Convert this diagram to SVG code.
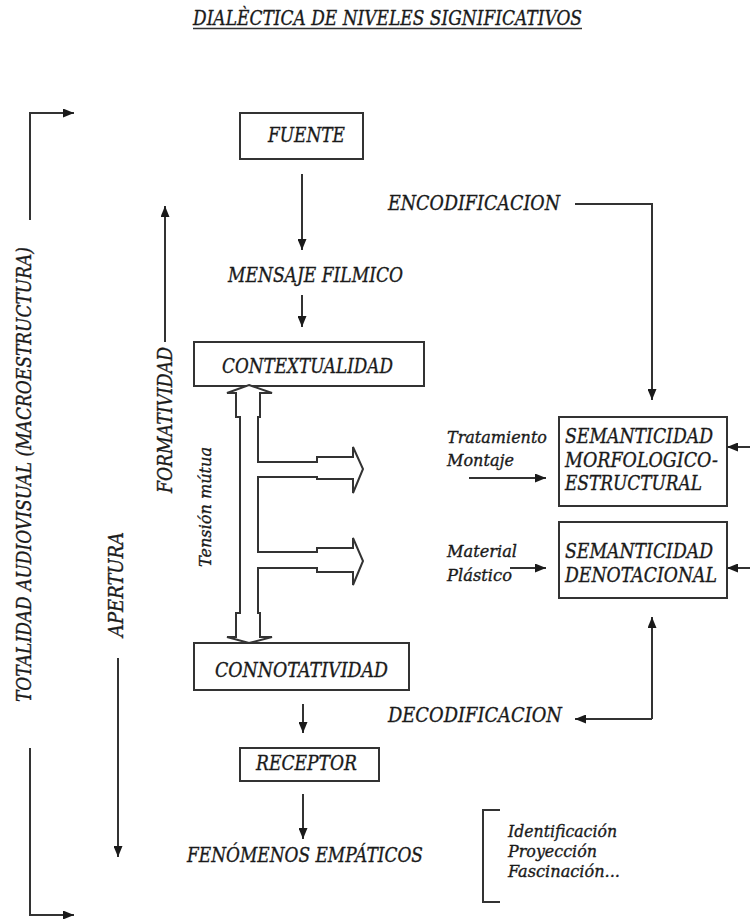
<svg xmlns="http://www.w3.org/2000/svg" width="750" height="919" viewBox="0 0 750 919">
  <defs>
    <marker id="head" viewBox="0 0 11 9" refX="11" refY="4.5" markerWidth="11" markerHeight="9" markerUnits="userSpaceOnUse" orient="auto">
      <path d="M0,0 L11,4.5 L0,9 z" fill="#1a1a1a"/>
    </marker>
    <style>
      text { font-family: "DejaVu Serif", "Liberation Serif", serif; font-style: italic; fill: #1a1a1a; stroke: #1a1a1a; stroke-width: 0.35; }
      .lbl { font-size: 20px; }
      .sm { font-size: 17px; }
      .box { fill: #fff; stroke: #333; stroke-width: 2; }
      .ln { fill: none; stroke: #333; stroke-width: 2; }
      .arr { fill: none; stroke: #333; stroke-width: 2; marker-end: url(#head); }
    </style>
  </defs>
  <rect width="750" height="919" fill="#fff"/>

  <!-- heading -->
  <g id="title">
    <text class="lbl" x="193" y="25" textLength="389" lengthAdjust="spacingAndGlyphs">DIALÈCTICA DE NIVELES SIGNIFICATIVOS</text>
    <line x1="193" y1="28.5" x2="582" y2="28.5" stroke="#333" stroke-width="1.5"/>
  </g>

  <!-- side labels -->
  <g id="totalidad">
    <text class="lbl" transform="translate(31,702) rotate(-90)" textLength="455" lengthAdjust="spacingAndGlyphs">TOTALIDAD AUDIOVISUAL (MACROESTRUCTURA)</text>
  </g>
  <g id="formatividad">
    <text class="lbl" transform="translate(172,493) rotate(-90)" textLength="146" lengthAdjust="spacingAndGlyphs">FORMATIVIDAD</text>
  </g>
  <g id="apertura">
    <text class="lbl" transform="translate(123,637) rotate(-90)" textLength="105" lengthAdjust="spacingAndGlyphs">APERTURA</text>
  </g>
  <g id="tension">
    <text class="sm" transform="translate(211,567) rotate(-90)" textLength="120" lengthAdjust="spacingAndGlyphs">Tensión mútua</text>
  </g>

  <!-- main chain -->
  <g id="fuente">
    <rect class="box" x="240" y="113" width="123" height="46"/>
    <text class="lbl" x="268" y="142" textLength="77" lengthAdjust="spacingAndGlyphs">FUENTE</text>
  </g>
  <g id="mensaje">
    <text class="lbl" x="228" y="282" textLength="175" lengthAdjust="spacingAndGlyphs">MENSAJE FILMICO</text>
  </g>
  <g id="contextualidad">
    <rect class="box" x="194" y="342" width="230" height="44"/>
    <text class="lbl" x="222" y="373" textLength="171" lengthAdjust="spacingAndGlyphs">CONTEXTUALIDAD</text>
  </g>
  <g id="connotatividad">
    <rect class="box" x="194" y="643" width="215" height="47"/>
    <text class="lbl" x="215" y="677" textLength="173" lengthAdjust="spacingAndGlyphs">CONNOTATIVIDAD</text>
  </g>
  <g id="receptor">
    <rect class="box" x="240" y="748" width="139" height="33"/>
    <text class="lbl" x="256" y="770" textLength="101" lengthAdjust="spacingAndGlyphs">RECEPTOR</text>
  </g>
  <g id="fenomenos">
    <text class="lbl" x="187" y="862" textLength="236" lengthAdjust="spacingAndGlyphs">FENÓMENOS EMPÁTICOS</text>
  </g>

  <!-- coding labels -->
  <g id="encodificacion">
    <text class="lbl" x="388" y="210" textLength="172" lengthAdjust="spacingAndGlyphs">ENCODIFICACION</text>
  </g>
  <g id="decodificacion">
    <text class="lbl" x="388" y="722" textLength="174" lengthAdjust="spacingAndGlyphs">DECODIFICACION</text>
  </g>

  <!-- semantic levels -->
  <g id="sem-morfologico">
    <rect class="box" x="559" y="417" width="168" height="89"/>
    <text class="lbl" x="565" y="443" textLength="148" lengthAdjust="spacingAndGlyphs">SEMANTICIDAD</text>
    <text class="lbl" x="565" y="467" textLength="153" lengthAdjust="spacingAndGlyphs">MORFOLOGICO-</text>
    <text class="lbl" x="565" y="490" textLength="137" lengthAdjust="spacingAndGlyphs">ESTRUCTURAL</text>
  </g>
  <g id="sem-denotacional">
    <rect class="box" x="559" y="522" width="168" height="76"/>
    <text class="lbl" x="565" y="558" textLength="148" lengthAdjust="spacingAndGlyphs">SEMANTICIDAD</text>
    <text class="lbl" x="565" y="582" textLength="152" lengthAdjust="spacingAndGlyphs">DENOTACIONAL</text>
  </g>
  <g id="tratamiento">
    <text class="sm" x="447" y="443" textLength="100" lengthAdjust="spacingAndGlyphs">Tratamiento</text>
    <text class="sm" x="447" y="466" textLength="67" lengthAdjust="spacingAndGlyphs">Montaje</text>
  </g>
  <g id="material">
    <text class="sm" x="447" y="557" textLength="70" lengthAdjust="spacingAndGlyphs">Material</text>
    <text class="sm" x="447" y="581" textLength="65" lengthAdjust="spacingAndGlyphs">Plástico</text>
  </g>

  <!-- empathic phenomena list -->
  <g id="empatia">
    <path class="ln" d="M500,810 H483 V902 H500"/>
    <text class="sm" x="508" y="837" textLength="109" lengthAdjust="spacingAndGlyphs">Identificación</text>
    <text class="sm" x="508" y="857" textLength="89" lengthAdjust="spacingAndGlyphs">Proyección</text>
    <text class="sm" x="508" y="877" textLength="112" lengthAdjust="spacingAndGlyphs">Fascinación...</text>
  </g>

  <!-- mutual tension block arrow -->
  <g id="tension-arrow">
    <polygon points="249,385 272,393 260,393 260,417 258,417 258,462 317,462 317,457 353,457 353,447 363,469 353,493 353,479 317,479 317,477 258,477 258,552 317,552 317,548 353,548 353,538 363,561 353,585 353,572 317,572 317,568 258,568 258,613 260,613 260,637 272,637 249,643 227,637 236,637 236,613 240,613 240,417 236,417 236,393 227,393" fill="#fff" stroke="#333" stroke-width="2" stroke-linejoin="miter"/>
  </g>

  <!-- connectors -->
  <g id="connectors">
    <path class="arr" d="M30,220 V113 H74"/>
    <path class="arr" d="M30,748 V915 H74"/>
    <path class="arr" d="M165,342 V206"/>
    <path class="arr" d="M118,658 V857"/>
    <path class="arr" d="M302,174 V250"/>
    <path class="arr" d="M302,295 V327"/>
    <path class="arr" d="M303,704 V733"/>
    <path class="arr" d="M303,794 V839"/>
    <path class="arr" d="M575,204 H652 V400"/>
    <path class="arr" d="M652,719 V617"/>
    <path class="arr" d="M652,719 H575"/>
    <path class="arr" d="M469,478 H546"/>
    <path class="arr" d="M510,568 H546"/>
    <path class="arr" d="M752,447 H727"/>
    <path class="arr" d="M752,568 H727"/>
  </g>
</svg>
